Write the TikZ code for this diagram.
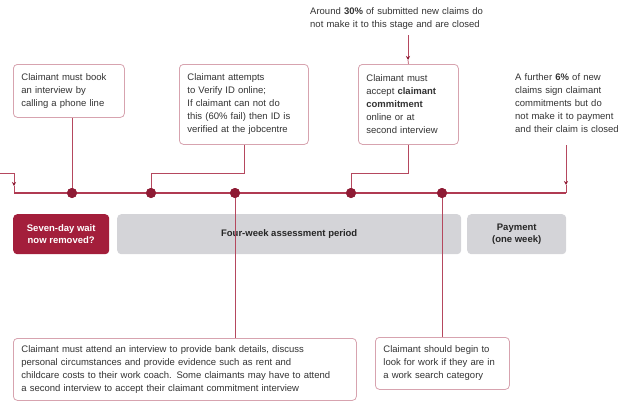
\documentclass[tikz,border=0pt]{standalone}
\usepackage{fontspec}
\setmainfont{Liberation Sans}
\usetikzlibrary{arrows.meta}
\definecolor{tl}{HTML}{B03A52}
\definecolor{dotc}{HTML}{8E1B34}
\definecolor{bord}{HTML}{D7A3AF}
\definecolor{connc}{HTML}{B5485E}
\definecolor{redbar}{HTML}{A31E3B}
\definecolor{greybar}{HTML}{D4D4D8}
\definecolor{txt}{HTML}{333333}
\begin{document}
\begin{tikzpicture}[x=1pt,y=-1pt,
  box/.style={draw=bord, line width=0.8pt, rounded corners=4pt, fill=white, anchor=north west,
    inner xsep=8pt, inner ysep=0pt, align=left, font=\fontsize{9.5}{13}\selectfont, text=txt},
  plain/.style={inner sep=0pt, align=left, font=\fontsize{9.5}{13}\selectfont, text=txt},
  bar/.style={rounded corners=4pt, anchor=north west, inner sep=0pt, align=center,
    font=\fontsize{9.5}{12.5}\selectfont\bfseries},
  conn/.style={draw=connc, line width=0.7pt},
  tline/.style={draw=tl, line width=1.2pt},
  dotn/.style={circle, fill=dotc, minimum size=10pt, inner sep=0pt},
  tip/.style={-{Stealth[length=4pt,width=4pt,color=dotc]}}
]
\useasboundingbox (0,0) rectangle (639,405);

% bars
\node[bar, fill=redbar, text=white, minimum width=96pt, minimum height=40pt] (bw) at (13,214) {Seven-day wait\\now removed?};
\node[bar, fill=greybar, text=black!85, minimum width=344pt, minimum height=40pt] (ba) at (117,214) {Four-week assessment period};
\node[bar, fill=greybar, text=black!85, minimum width=99pt, minimum height=40pt] (bp) at (467,214) {Payment\\(one week)};

% boxes
\node[box, text width=95pt, minimum height=53pt] (b1) at (13,64) {Claimant must book\\an interview by\\calling a phone line};
\node[box, text width=113pt, minimum height=80pt] (b2) at (179,64) {Claimant attempts\\to Verify ID online;\\If claimant can not do\\this (60\% fail) then ID is\\verified at the jobcentre};
\node[box, text width=84pt, minimum height=80pt] (b3) at (358,64) {Claimant must\\accept \textbf{claimant}\\\textbf{commitment}\\online or at\\second interview};
\node[box, text width=327pt, minimum height=62pt] (bb1) at (13,338) {Claimant must attend an interview to provide bank details, discuss\\personal circumstances and provide evidence such as rent and\\childcare costs to their work coach. Some claimants may have to attend\\a second interview to accept their claimant commitment interview};
\node[box, text width=118pt, minimum height=52pt] (bb2) at (375,337) {Claimant should begin to\\look for work if they are in\\a work search category};

% free texts
\node[plain, anchor=west, text width=190pt] (ttop) at (310,19) {Around \textbf{30\%} of submitted new claims do\\not make it to this stage and are closed};
\node[plain, anchor=west, text width=118pt] (tright) at (515,103) {A further \textbf{6\%} of new\\claims sign claimant\\commitments but do\\not make it to payment\\and their claim is closed};

% timeline coordinates
\coordinate (l0) at (0,173);
\coordinate (l1) at (14,173);
\coordinate (l2) at (14,186);
\coordinate (tstart) at (14,193);
\coordinate (tend) at (566,193);
\coordinate (r1) at (566,145);
\coordinate (r2) at (566,185);
\coordinate (a1) at (408,35);
\coordinate (a2) at (408,60);
\coordinate (k2) at (151,173);
\coordinate (k3) at (351,173);

\node[dotn] (d1) at (72,193) {};
\node[dotn] (d2) at (151,193) {};
\node[dotn] (d3) at (235,193) {};
\node[dotn] (d4) at (351,193) {};
\node[dotn] (d5) at (442,193) {};

% connectors
\draw[conn] (l0) -- (l1);
\draw[conn, tip] (l1) -- (l2);
\draw[conn] (l2) -- (tstart);
\draw[conn, tip] (r1) -- (r2);
\draw[conn] (r2) -- (tend);
\draw[conn, tip] (a1) -- (a2);
\draw[conn] (a2) -- (b3.north);
\draw[conn] (d1 |- b1.south) -- (d1);
\draw[conn] (b2.south) |- (k2) -- (d2);
\draw[conn] (b3.south) |- (k3) -- (d4);
\draw[conn] (d3) -- (d3 |- bb1.north);
\draw[conn] (d5) -- (d5 |- bb2.north);

\draw[tline] (tstart) -- (tend);
\foreach \d in {d1,d2,d3,d4,d5} \node[dotn] at (\d) {};
\end{tikzpicture}
\end{document}
